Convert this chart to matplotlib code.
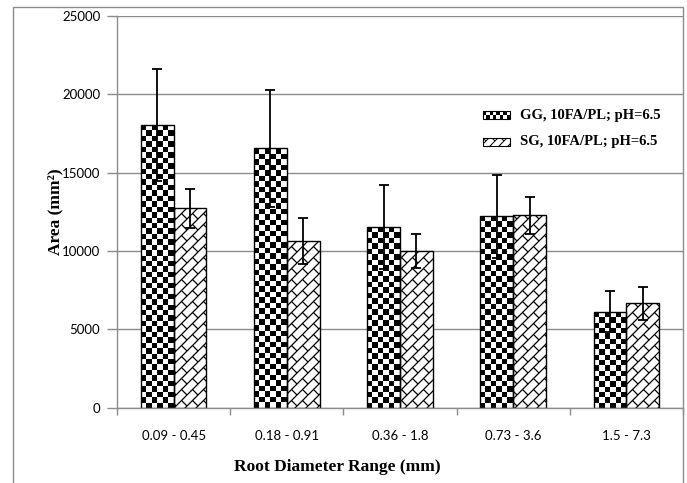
import numpy as np
import matplotlib
matplotlib.use("Agg")
import matplotlib.pyplot as plt
from matplotlib.patches import Rectangle
from matplotlib.collections import LineCollection

# data
categories = ["0.09 - 0.45", "0.18 - 0.91", "0.36 - 1.8", "0.73 - 3.6", "1.5 - 7.3"]
gg_area = [18030, 16540, 11520, 12200, 6120]
gg_err = [3600, 3740, 2700, 2650, 1320]
sg_area = [12720, 10650, 9990, 12270, 6660]
sg_err = [1250, 1470, 1110, 1170, 1040]
series_labels = ["GG, 10FA/PL; pH=6.5", "SG, 10FA/PL; pH=6.5"]

GRAY = "#8c8c8c"
SERIF = "Liberation Serif"
SANS = "Lato"

fig = plt.figure(figsize=(6.87, 4.83), dpi=100)
ax = fig.add_axes([117/687, 1-407.7/483, (683-117)/687, (407.7-15.7)/483])

x = np.arange(len(categories))
w = 0.29
ax.set_xlim(-0.5, len(categories) - 0.5)
ax.set_ylim(0, 25000)


def px_box(x0, y0, x1, y1, trans):
    p = trans.transform([[x0, y0], [x1, y1]])
    return p[0][0], p[0][1], p[1][0], p[1][1]


def checker(patch, cell=5.5, z=2.2):
    # checkerboard fill, sized so it ends at the patch top
    bx, by = patch.get_x(), patch.get_y()
    bw, bh = patch.get_width(), patch.get_height()
    X0, Y0, X1, Y1 = px_box(bx, by, bx + bw, by + bh, ax.transData)
    ncol = max(1, int(round((X1 - X0) / cell)))
    c = (X1 - X0) / ncol
    nrow = max(1, int(round((Y1 - Y0) / c)))
    grid = np.add.outer(np.arange(nrow), np.arange(ncol)) % 2
    im = ax.imshow(grid, cmap="gray", origin="upper",
                   extent=[bx, bx + bw, by, by + bh],
                   aspect="auto", interpolation="nearest", zorder=z,
                   vmin=0, vmax=1)
    im.set_clip_path(patch)


def brick(patch, P=11.0, lw=0.9, z=2.2):
    # diagonal brick hatch clipped to the patch
    bx, by = patch.get_x(), patch.get_y()
    bw, bh = patch.get_width(), patch.get_height()
    X0, Y0, X1, Y1 = px_box(bx, by, bx + bw, by + bh, ax.transData)
    segs = []
    kmin = int(np.floor((Y0 - X1) / P)) - 1
    kmax = int(np.ceil((Y1 - X0) / P)) + 1
    for k in range(kmin, kmax + 1):
        cc = k * P
        xa, xb = max(X0, Y0 - cc) - 2, min(X1, Y1 - cc) + 2
        if xa < xb:
            segs.append([(xa, xa + cc), (xb, xb + cc)])
        off = (k % 2) * P
        m0 = int(np.floor((X0 + Y0) / (2 * P))) - 1
        m1 = int(np.ceil((X1 + Y1) / (2 * P))) + 1
        for m in range(m0, m1 + 1):
            s = m * 2 * P + off
            segs.append([((s - cc) / 2, (s + cc) / 2),
                         ((s - cc - P) / 2, (s + cc + P) / 2)])
    inv = ax.transData.inverted()
    segs = [inv.transform(sg) for sg in segs]
    lc = LineCollection(segs, colors="black", linewidths=lw, zorder=z)
    ax.add_collection(lc)
    lc.set_clip_path(patch)


bars_gg = ax.bar(x - w/2, gg_area, w, color="white", edgecolor="none", zorder=2)
bars_sg = ax.bar(x + w/2, sg_area, w, color="white", edgecolor="none", zorder=2)
for b in bars_gg:
    checker(b)
for b in bars_sg:
    brick(b)
ax.bar(x - w/2, gg_area, w, fill=False, edgecolor="black", linewidth=1.0, zorder=2.5)
ax.bar(x + w/2, sg_area, w, fill=False, edgecolor="black", linewidth=1.0, zorder=2.5)

ax.errorbar(x - w/2, gg_area, yerr=gg_err, fmt="none", ecolor="black",
            elinewidth=1.3, capsize=3.5, capthick=1.3, zorder=3)
ax.errorbar(x + w/2, sg_area, yerr=sg_err, fmt="none", ecolor="black",
            elinewidth=1.3, capsize=3.5, capthick=1.3, zorder=3)

# axes styling
ax.set_yticks(np.arange(0, 25001, 5000))
ax.yaxis.grid(True, color=GRAY, linewidth=1.0)
ax.set_axisbelow(True)
for sp in ["top", "right"]:
    ax.spines[sp].set_visible(False)
for sp in ["left", "bottom"]:
    ax.spines[sp].set_color(GRAY)
    ax.spines[sp].set_linewidth(1.0)
ax.tick_params(axis="y", direction="out", length=7, width=1, color=GRAY, pad=5,
               labelsize=9.5)
ax.set_xticks(x)
ax.set_xticklabels(categories)
ax.set_xticks(np.arange(-0.5, len(categories), 1), minor=True)
ax.tick_params(axis="x", which="major", length=0, pad=16, labelsize=9.5)
ax.tick_params(axis="x", which="minor", length=5, width=1, color=GRAY)
for lab in ax.get_xticklabels() + ax.get_yticklabels():
    lab.set_fontfamily(SANS)

ax.set_ylabel("Area (mm²)", fontfamily=SERIF, fontweight="bold", fontsize=12.5)
ax.yaxis.set_label_coords(-0.095, 0.5)
ax.set_xlabel("Root Diameter Range (mm)", fontfamily=SERIF, fontweight="bold",
              fontsize=12.5)
ax.xaxis.set_label_coords(0.39, -0.13)

# legend drawn by hand: swatch + text
inv = ax.transData.inverted()
for i, lab in enumerate(series_labels):
    cy = [115, 142][i]
    (lx0, ly0), (lx1, ly1) = inv.transform([[483, 483 - cy - 4], [510, 483 - cy + 4]])
    sw = Rectangle((lx0, ly0), lx1 - lx0, ly1 - ly0, facecolor="white",
                   edgecolor="none", zorder=2)
    ax.add_patch(sw)
    if i == 0:
        checker(sw, cell=3.4)
    else:
        brick(sw, P=9.0, lw=0.7)
    ax.add_patch(Rectangle((lx0, ly0), lx1 - lx0, ly1 - ly0, fill=False,
                           edgecolor="black", linewidth=0.8, zorder=2.5))
    tx, ty = inv.transform([[520, 483 - cy]])[0]
    ax.text(tx, ty, lab, fontfamily=SERIF, fontweight="bold", fontsize=10.5,
            ha="left", va="center", zorder=4)

# outer chart frame
fig.patches.append(Rectangle((13/687, -0.05), (683-13)/687, 1 - 7/483 + 0.05,
                             transform=fig.transFigure, fill=False,
                             edgecolor=GRAY, linewidth=1.0))

fig.savefig("out.png", dpi=100)
